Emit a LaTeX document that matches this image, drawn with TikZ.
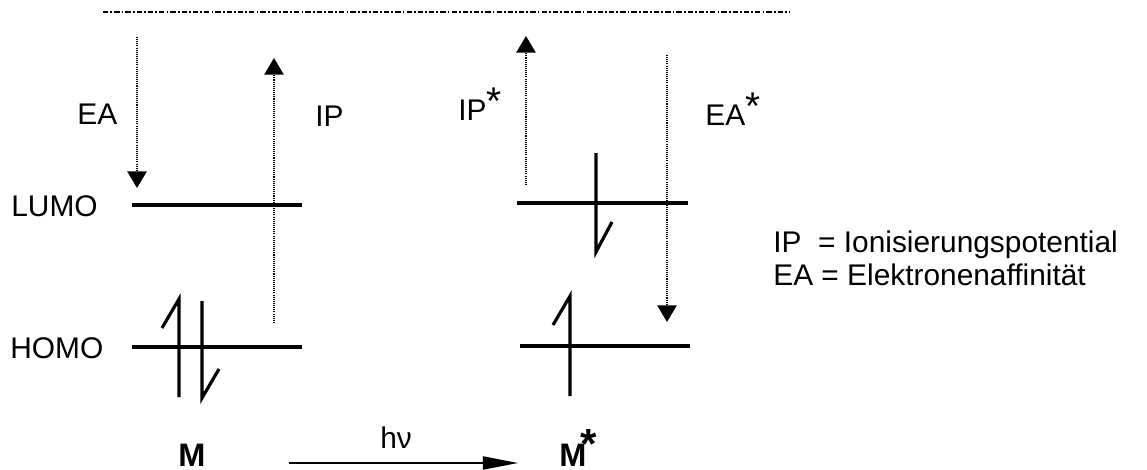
\documentclass[tikz,border=0pt]{standalone}
\usepackage{fontspec}
\setmainfont{Liberation Sans}
\usetikzlibrary{arrows.meta}
\newcommand\supstar{\raisebox{3pt}{\fontsize{22}{22}\selectfont *}}

\begin{document}
\begin{tikzpicture}[x=0.02cm,y=-0.02cm,
      font=\fontsize{17}{20}\selectfont,
      >={Triangle[length=9.5pt,width=11pt]},
      level/.style={line width=2.7pt},
      spin/.style={line width=1.8pt,line join=miter},
      trans/.style={line width=1pt,dash pattern=on 0.6pt off 0.6pt,->},
      lbl/.style={inner sep=0pt,anchor=base west},
      mol/.style={lbl,font=\fontsize{18.5}{20}\selectfont\bfseries}
    ]
    \useasboundingbox (0,0) rectangle (1147,470);
    % vacuum level
    \coordinate (vacL) at (103,12);
    \coordinate (vacR) at (790,12);
    \draw[line width=0.7pt,dash pattern=on 3pt off 1.2pt on 1pt off 1.2pt]
      (vacL) -- (vacR);
    % ground state M
    \node[lbl] (lumo) at (11,216) {LUMO};
    \node[lbl] (homo) at (10,358) {HOMO};
    \coordinate (mLa) at (132,205);
    \coordinate (mLb) at (302,205);
    \coordinate (mHa) at (132,347);
    \coordinate (mHb) at (302,347);
    \draw[level] (mLa) -- (mLb);
    \draw[level] (mHa) -- (mHb);
    \draw[spin] (179,397) -- (179,299) -- (162,328);
    \draw[spin] (202,301) -- (202,398) -- (219,369);
    \coordinate (eaTop) at (137,37);
    \coordinate (eaEnd) at (137,188);
    \draw[trans] (eaTop) -- (eaEnd);
    \coordinate (ipBot) at (274,323);
    \coordinate (ipEnd) at (274,58);
    \draw[trans] (ipBot) -- (ipEnd);
    \node[lbl] (ea) at (77,124) {EA};
    \node[lbl] (ip) at (315,126) {IP};
    % excited state M*
    \coordinate (sLa) at (517,203);
    \coordinate (sLb) at (688,203);
    \coordinate (sHa) at (520,346);
    \coordinate (sHb) at (690,346);
    \draw[level] (sLa) -- (sLb);
    \draw[level] (sHa) -- (sHb);
    \draw[spin] (596,153) -- (596,252) -- (612,222);
    \draw[spin] (570,396) -- (570,296) -- (553,325);
    \coordinate (ipsBot) at (526,185);
    \coordinate (ipsEnd) at (526,36);
    \draw[trans] (ipsBot) -- (ipsEnd);
    \coordinate (easTop) at (667,55);
    \coordinate (easEnd) at (667,322);
    \draw[trans] (easTop) -- (easEnd);
    \node[lbl] (ips) at (458,120) {IP\supstar};
    \node[lbl] (eas) at (705,125) {EA\supstar};
    % legend
    \node[lbl] (leg1) at (773,252) {IP\ \ = Ionisierungspotential};
    \node[lbl] (leg2) at (773,285) {EA = Elektronenaffinität};
    % excitation
    \node[mol] (m) at (178,466) {M};
    \node[mol] (ms) at (559,466)
      {M\kern-3.5pt\raisebox{4pt}{\fontsize{24}{24}\selectfont *}};
    \coordinate (hvA) at (289,463);
    \coordinate (hvB) at (518,463);
    \draw[line width=0.9pt,-{Triangle[length=20pt,width=7.5pt]}] (hvA) -- (hvB);
    \node[lbl] (hv) at (380,448) {hν};
  \end{tikzpicture}
\end{document}
